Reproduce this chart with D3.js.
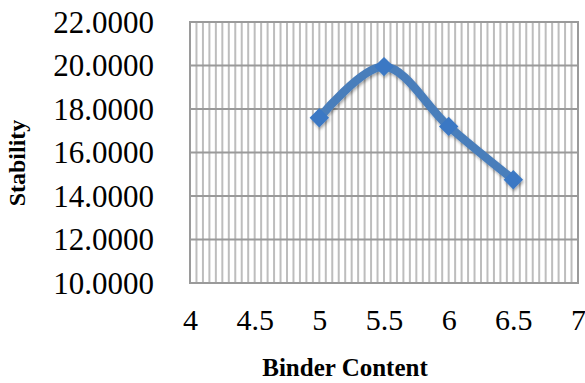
<!DOCTYPE html>
<html><head><meta charset="utf-8">
<script src="https://cdn.jsdelivr.net/npm/d3@7"></script>
<style>body{margin:0;background:#fff}svg{display:block}</style>
</head><body>
<svg id="c" width="585" height="383"></svg>
<script>
const binder = [5, 5.5, 6, 6.5];
const stability = [17.6, 19.95, 17.2, 14.75];
const xTicks = [4, 4.5, 5, 5.5, 6, 6.5, 7];
const yTicks = [10, 12, 14, 16, 18, 20, 22];

const svg = d3.select("#c");
const L = 190, R = 578, T = 22, B = 283;
const x = d3.scaleLinear().domain([4, 7]).range([L, R]);
const y = d3.scaleLinear().domain([10, 22]).range([B, T]);
const FF = "'Liberation Serif', 'Times New Roman', serif";

const defs = svg.append("defs");
const f = defs.append("filter").attr("id", "sh").attr("x", "-20%").attr("y", "-20%").attr("width", "140%").attr("height", "140%");
f.append("feDropShadow").attr("dx", 1).attr("dy", 2).attr("stdDeviation", 1.5).attr("flood-color", "#000").attr("flood-opacity", 0.35);

// minor vertical gridlines
const minor = d3.range(0, 61).map(i => 4 + i * 0.05);
svg.append("g").selectAll("line").data(minor).join("line")
  .attr("x1", d => x(d)).attr("x2", d => x(d)).attr("y1", T).attr("y2", B)
  .attr("stroke", "#bdbdbd").attr("stroke-width", 2);

// major horizontal gridlines
svg.append("g").selectAll("line").data(yTicks).join("line")
  .attr("x1", L).attr("x2", R).attr("y1", d => y(d)).attr("y2", d => y(d))
  .attr("stroke", "#9a9a9a").attr("stroke-width", 2);

// plot border
svg.append("rect").attr("x", L).attr("y", T).attr("width", R - L).attr("height", B - T)
  .attr("fill", "none").attr("stroke", "#9a9a9a").attr("stroke-width", 2);

// y tick labels
const yAxis = d3.axisLeft(y).tickValues(yTicks).tickFormat(d3.format(".4f")).tickSize(0).tickPadding(0);
const ga = svg.append("g").attr("transform", `translate(154,0)`).call(yAxis)
  .attr("font-family", FF).attr("font-size", 31);
ga.select(".domain").remove();
ga.selectAll("text").attr("fill", "#000").attr("dy", "0.33em");

// x tick labels
const xAxis = d3.axisBottom(x).tickValues(xTicks).tickFormat(d3.format("")).tickSize(0).tickPadding(0);
const gx = svg.append("g").attr("transform", `translate(0,330)`).call(xAxis)
  .attr("font-family", FF).attr("font-size", 30);
gx.select(".domain").remove();
gx.selectAll("text").attr("fill", "#000").attr("dy", 0).attr("y", 0);

// axis titles
svg.append("text").attr("x", 345).attr("y", 376).attr("text-anchor", "middle")
  .attr("font-family", FF).attr("font-weight", "bold").attr("font-size", 25)
  .text("Binder Content");
svg.append("text").attr("transform", "translate(25,163) rotate(-90)").attr("text-anchor", "middle")
  .attr("font-family", FF).attr("font-weight", "bold").attr("font-size", 24)
  .text("Stability");

// series
const pts = binder.map((b, i) => [b, stability[i]]);
const line = d3.line().x(d => x(d[0])).y(d => y(d[1])).curve(d3.curveCatmullRom.alpha(0.5));
const gs = svg.append("g").attr("filter", "url(#sh)");
gs.append("path").attr("d", line(pts)).attr("fill", "none").attr("stroke", "#4a7ebb").attr("stroke-width", 8.5).attr("stroke-linejoin", "round");
gs.selectAll("path.m").data(pts).join("path").attr("class", "m")
  .attr("transform", d => `translate(${x(d[0])},${y(d[1])})`)
  .attr("d", d3.symbol().type(d3.symbolDiamond2).size(240))
  .attr("fill", "#3a78c4");
</script>
</body></html>
